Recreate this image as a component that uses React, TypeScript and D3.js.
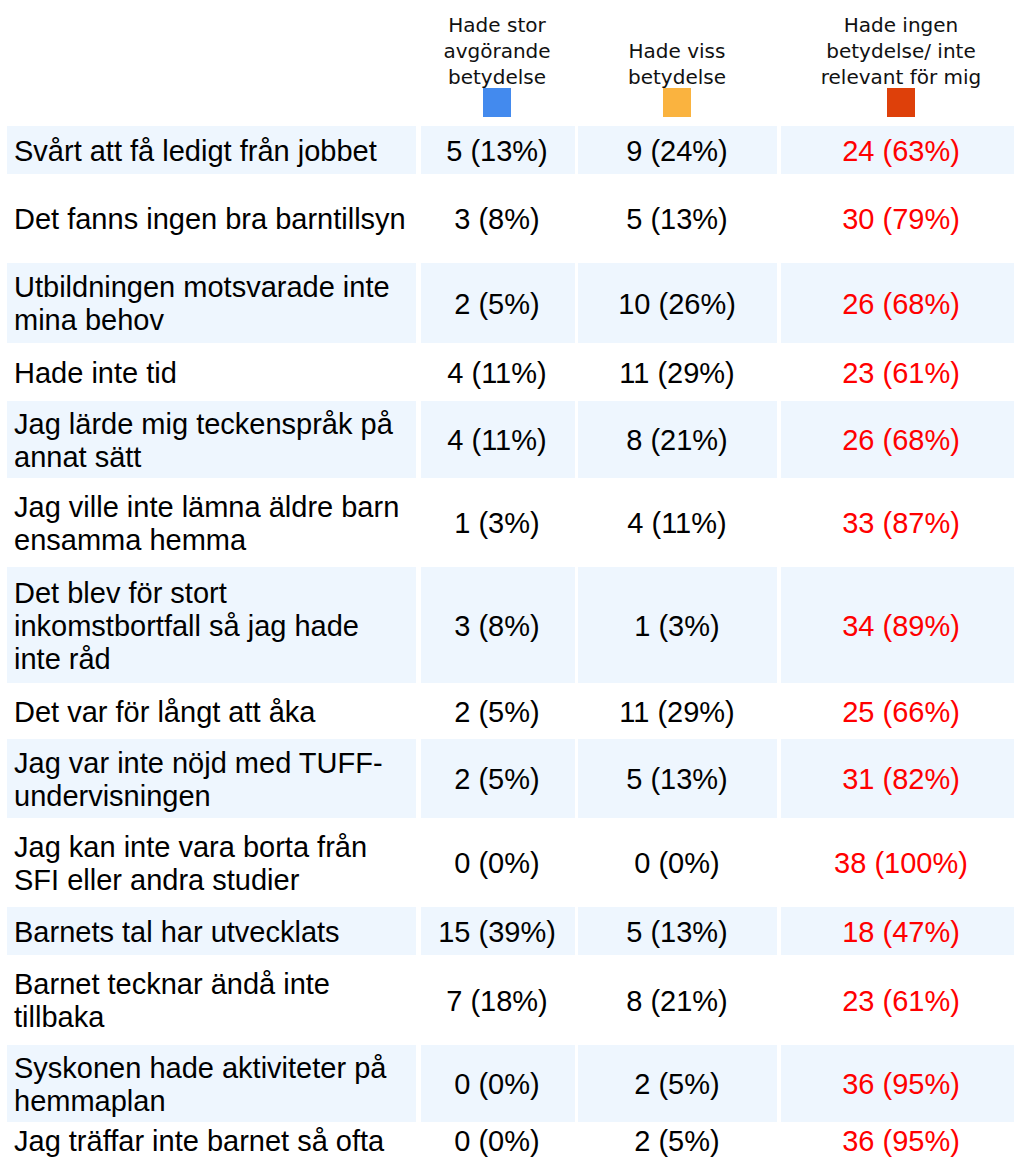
import React, { useEffect, useRef } from 'react';
import * as d3 from 'd3';

const reasons: string[][] = [
  ['Svårt att få ledigt från jobbet'],
  ['Det fanns ingen bra barntillsyn'],
  ['Utbildningen motsvarade inte', 'mina behov'],
  ['Hade inte tid'],
  ['Jag lärde mig teckenspråk på', 'annat sätt'],
  ['Jag ville inte lämna äldre barn', 'ensamma hemma'],
  ['Det blev för stort', 'inkomstbortfall så jag hade', 'inte råd'],
  ['Det var för långt att åka'],
  ['Jag var inte nöjd med TUFF-', 'undervisningen'],
  ['Jag kan inte vara borta från', 'SFI eller andra studier'],
  ['Barnets tal har utvecklats'],
  ['Barnet tecknar ändå inte', 'tillbaka'],
  ['Syskonen hade aktiviteter på', 'hemmaplan'],
  ['Jag träffar inte barnet så ofta'],
];

const categories: string[][] = [
  ['Hade stor', 'avgörande', 'betydelse'],
  ['Hade viss', 'betydelse'],
  ['Hade ingen', 'betydelse/ inte', 'relevant för mig'],
];

const storCount = [5, 3, 2, 4, 4, 1, 3, 2, 2, 0, 15, 7, 0, 0];
const storPct = [13, 8, 5, 11, 11, 3, 8, 5, 5, 0, 39, 18, 0, 0];
const vissCount = [9, 5, 10, 11, 8, 4, 1, 11, 5, 0, 5, 8, 2, 2];
const vissPct = [24, 13, 26, 29, 21, 11, 3, 29, 13, 0, 13, 21, 5, 5];
const ingenCount = [24, 30, 26, 23, 26, 33, 34, 25, 31, 38, 18, 23, 36, 36];
const ingenPct = [63, 79, 68, 61, 68, 87, 89, 66, 82, 100, 47, 61, 95, 95];

// layout of the table (row heights are irregular in the original)
const rowHeights = [48, 85, 80, 54, 77, 85, 116, 52, 79, 85, 48, 86, 77, 32];
const colEdges: [number, number][] = [
  [7, 416],
  [421, 575],
  [578, 777],
  [781, 1021],
];
const numCenters = [497, 677, 901];

const W = 1014;
const H = 1165;

export default function App() {
  const ref = useRef<SVGSVGElement>(null);

  useEffect(() => {
    if (!ref.current) return;
    const svg = d3.select(ref.current);
    svg.selectAll('*').remove();

    const top = 126;
    const gap = 2;
    const tops: number[] = [];
    let acc = top;
    rowHeights.forEach(h => {
      tops.push(acc);
      acc += h + gap;
    });

    const y = d3
      .scaleOrdinal<number, number>()
      .domain(d3.range(reasons.length))
      .range(tops);

    const swatch = d3
      .scaleOrdinal<number, string>()
      .domain([0, 1, 2])
      .range(['#438AEE', '#FAB33F', '#DE400A']);

    // header
    const head = svg.append('g');
    categories.forEach((lines, c) => {
      const cx = numCenters[c];
      const n = lines.length;
      lines.forEach((t, i) => {
        head
          .append('text')
          .attr('x', cx)
          .attr('y', 84 - (n - 1 - i) * 26)
          .attr('text-anchor', 'middle')
          .attr('font-family', 'DejaVu Sans, Verdana, sans-serif')
          .attr('font-size', 20)
          .attr('fill', '#111')
          .text(t);
      });
      head
        .append('rect')
        .attr('x', cx - 14)
        .attr('y', 88)
        .attr('width', 28)
        .attr('height', 29)
        .attr('fill', swatch(c));
    });

    const counts = [storCount, vissCount, ingenCount];
    const pcts = [storPct, vissPct, ingenPct];
    const lh = 33;

    reasons.forEach((lines, r) => {
      const g = svg.append('g');
      const y0 = y(r);
      const h = rowHeights[r];
      const mid = y0 + h / 2;
      if (r % 2 === 0) {
        colEdges.forEach(([a, b]) => {
          g.append('rect')
            .attr('x', a)
            .attr('y', y0)
            .attr('width', b - a)
            .attr('height', h)
            .attr('fill', '#EEF6FE');
        });
      }
      const n = lines.length;
      lines.forEach((t, i) => {
        g.append('text')
          .attr('x', 14)
          .attr('y', mid - ((n - 1) * lh) / 2 + i * lh + 10.5)
          .attr('font-family', 'Liberation Sans, Arial, sans-serif')
          .attr('font-size', 29)
          .attr('fill', '#000')
          .text(t);
      });
      counts.forEach((arr, c) => {
        g.append('text')
          .attr('x', numCenters[c])
          .attr('y', mid + 10.5)
          .attr('text-anchor', 'middle')
          .attr('font-family', 'Liberation Sans, Arial, sans-serif')
          .attr('font-size', 29)
          .attr('fill', c === 2 ? '#FF0000' : '#000')
          .text(`${arr[r]} (${pcts[c][r]}%)`);
      });
    });
  }, []);

  return (
    <svg
      ref={ref}
      width={W}
      height={H}
      style={{ position: 'absolute', left: 0, top: 0, background: '#fff' }}
    />
  );
}
